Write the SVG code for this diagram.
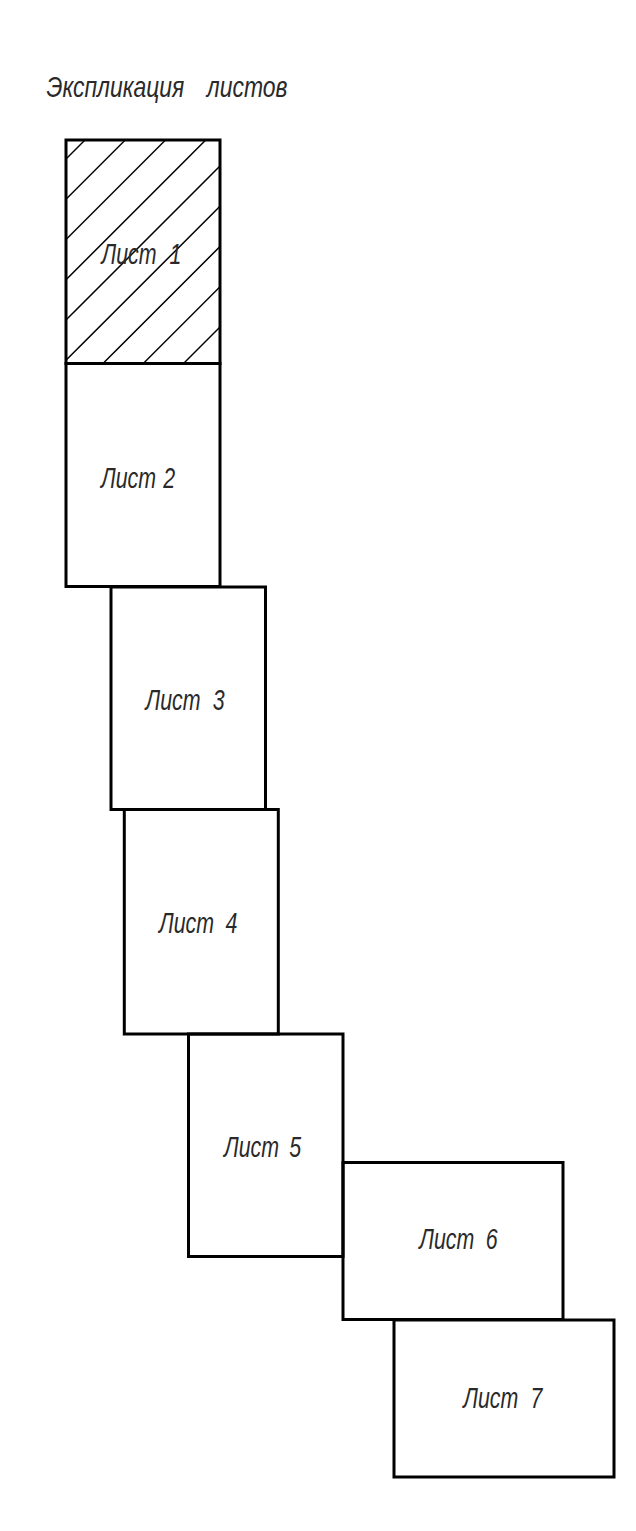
<svg xmlns="http://www.w3.org/2000/svg" width="636" height="1531" viewBox="0 0 636 1531">
<style>
  .sheet { fill: none; stroke: #000; stroke-width: 3; stroke-linejoin: miter; }
  .hatch { stroke: #000; stroke-width: 1.5; fill: none; }
  .lbl { font-family: "Liberation Sans", Arial, sans-serif; font-style: italic; font-size: 29px; fill: #2a2a2a; }
</style>
<rect width="636" height="1531" fill="#fff"/>
<g id="title">
  <text class="lbl" transform="translate(46.5,96.7) scale(0.79,1)">Экспликация <tspan x="203">листов</tspan></text>
</g>
<g id="sheet1">
  <g class="hatch">
    <line x1="66" y1="159" x2="85" y2="140"/>
    <line x1="66" y1="199.25" x2="125.25" y2="140"/>
    <line x1="66" y1="239.5" x2="165.5" y2="140"/>
    <line x1="66" y1="279.75" x2="205.75" y2="140"/>
    <line x1="66" y1="320" x2="220" y2="166"/>
    <line x1="66" y1="360.25" x2="220" y2="206.25"/>
    <line x1="103" y1="363.5" x2="220" y2="246.5"/>
    <line x1="143.25" y1="363.5" x2="220" y2="286.75"/>
    <line x1="183.5" y1="363.5" x2="220" y2="327"/>
  </g>
  <rect class="sheet" x="66" y="140" width="154" height="223.5"/>
  <text class="lbl" transform="translate(101.5,263.7) scale(0.737,1)">Лист <tspan x="92.3">1</tspan></text>
</g>
<g id="sheet2">
  <rect class="sheet" x="66" y="363.5" width="154" height="223"/>
  <text class="lbl" transform="translate(101,488.3) scale(0.737,1)">Лист <tspan x="84.5">2</tspan></text>
</g>
<g id="sheet3">
  <rect class="sheet" x="111" y="587" width="154.5" height="222.5"/>
  <text class="lbl" transform="translate(145.5,710) scale(0.737,1)">Лист <tspan x="91.3">3</tspan></text>
</g>
<g id="sheet4">
  <rect class="sheet" x="124.3" y="809.5" width="154" height="224.5"/>
  <text class="lbl" transform="translate(159,933.3) scale(0.737,1)">Лист <tspan x="90.2">4</tspan></text>
</g>
<g id="sheet5">
  <rect class="sheet" x="188.5" y="1034" width="154.5" height="222.5"/>
  <text class="lbl" transform="translate(224,1156.7) scale(0.737,1)">Лист <tspan x="88.5">5</tspan></text>
</g>
<g id="sheet6">
  <rect class="sheet" x="343" y="1162.5" width="220" height="157"/>
  <text class="lbl" transform="translate(419.3,1249.3) scale(0.737,1)">Лист <tspan x="90.2">6</tspan></text>
</g>
<g id="sheet7">
  <rect class="sheet" x="394" y="1320" width="220" height="157"/>
  <text class="lbl" transform="translate(463.3,1408.3) scale(0.737,1)">Лист <tspan x="91.3">7</tspan></text>
</g>
</svg>
